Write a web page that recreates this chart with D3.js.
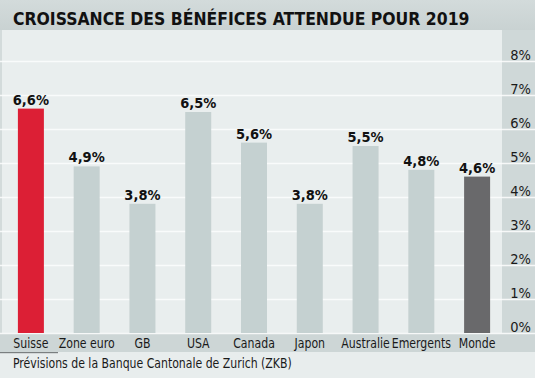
<!DOCTYPE html>
<html><head><meta charset="utf-8">
<script src="https://cdn.jsdelivr.net/npm/d3@7"></script>
<style>html,body{margin:0;padding:0;background:#e8eded;}svg{display:block;}</style>
</head><body>
<svg id="c" width="535" height="378"></svg>
<script>
const categories = ["Suisse","Zone euro","GB","USA","Canada","Japon","Australie","Emergents","Monde"];
const values = [6.6, 4.9, 3.8, 6.5, 5.6, 3.8, 5.5, 4.8, 4.6];
const valueLabels = ["6,6%","4,9%","3,8%","6,5%","5,6%","3,8%","5,5%","4,8%","4,6%"];
const yTicks = [0,1,2,3,4,5,6,7,8];
const title = "CROISSANCE DES BÉNÉFICES ATTENDUE POUR 2019";
const source = "Prévisions de la Banque Cantonale de Zurich (ZKB)";

const W = 535, H = 378;
const FONT = "'DejaVu Sans Condensed','DejaVu Sans',sans-serif";
const svg = d3.select("#c");

// background panels
svg.append("rect").attr("x",0).attr("y",0).attr("width",W).attr("height",H).attr("fill","#e8eded");
const grad = svg.append("defs").append("linearGradient").attr("id","tg").attr("x1",0).attr("x2",0).attr("y1",0).attr("y2",1);
grad.append("stop").attr("offset","0").attr("stop-color","#d3dbdb");
grad.append("stop").attr("offset","1").attr("stop-color","#c9d2d2");
svg.append("rect").attr("x",0).attr("y",0).attr("width",W).attr("height",30).attr("fill","url(#tg)");
svg.append("rect").attr("x",0).attr("y",30).attr("width",2).attr("height",303).attr("fill","#d3dbdb");
svg.append("rect").attr("x",2).attr("y",30).attr("width",500).attr("height",303).attr("fill","#e9eeee");
svg.append("rect").attr("x",502).attr("y",30).attr("width",33).attr("height",303).attr("fill","#cfd8d8");
svg.append("rect").attr("x",0).attr("y",333).attr("width",W).attr("height",19).attr("fill","#cdd6d6");
svg.append("rect").attr("x",0).attr("y",352).attr("width",W).attr("height",26).attr("fill","#e8eded");
svg.append("rect").attr("x",0).attr("y",352).attr("width",58).attr("height",1.2).attr("fill","#7a7f80");

const x = d3.scaleBand().domain(categories).range([3,505]).paddingInner(0.534).paddingOuter(0.267);
const y = d3.scaleLinear().domain([0,8]).range([333,61]);

// gridlines
const grid = svg.append("g")
  .call(d3.axisRight(y).tickValues(yTicks).tickSize(W).tickFormat(""));
grid.select(".domain").remove();
grid.selectAll(".tick line").attr("stroke","#fbfcfc").attr("stroke-width",1.3).attr("opacity",0.9);

// bars
const colorOf = c => c==="Suisse" ? "#dc1f35" : (c==="Monde" ? "#69696b" : "#c5d1d1");
svg.append("g").selectAll("rect").data(categories).join("rect")
  .attr("x", d=>x(d)).attr("width", x.bandwidth())
  .attr("y", (d,i)=>y(values[i])).attr("height",(d,i)=>y(0)-y(values[i]))
  .attr("fill", colorOf);

// value labels
svg.append("g").selectAll("text").data(categories).join("text")
  .attr("x", d=>x(d)+x.bandwidth()/2).attr("y",(d,i)=>y(values[i])-4)
  .attr("text-anchor","middle").attr("font-family",FONT).attr("font-weight","bold")
  .attr("font-size",14.5).attr("fill","#111").text((d,i)=>valueLabels[i]);

// right axis labels
const ax = svg.append("g").attr("transform","translate(531,-2)")
  .call(d3.axisLeft(y).tickValues(yTicks).tickSize(0).tickPadding(0).tickFormat(d=>d+"%"));
ax.select(".domain").remove();
ax.selectAll("text").attr("font-family",FONT).attr("font-size",14.5).attr("fill","#1a1a1a")
  .attr("text-anchor","end").attr("dy",0).attr("x",0);

// category axis (horizontally condensed)
const cx = svg.append("g").attr("transform","translate(0,348)")
  .call(d3.axisBottom(x).tickSize(0).tickPadding(0));
cx.select(".domain").remove();
cx.selectAll("text").attr("font-family",FONT).attr("font-size",14.5).attr("fill","#1a1a1a")
  .attr("dy",0).attr("y",0).attr("x",0).attr("transform","scale(0.84,1)");

// title
const t = svg.append("text").attr("x",13).attr("y",25).attr("font-family",FONT).attr("font-weight","bold")
  .attr("font-size",20).attr("fill","#111").text(title);
function fit(sel, w){ const l = sel.node().getComputedTextLength(); const fs = +sel.attr("font-size"); sel.attr("font-size", fs*w/l); }
fit(t, 457);
// source (horizontally condensed to reference width)
const sg = svg.append("g").attr("transform","translate(13,368)");
const s = sg.append("text").attr("x",0).attr("y",0).attr("font-family",FONT)
  .attr("font-size",14.5).attr("fill","#1a1a1a").text(source);
const k = 279 / s.node().getComputedTextLength();
s.attr("transform",`scale(${k},1)`);
</script>
</body></html>
